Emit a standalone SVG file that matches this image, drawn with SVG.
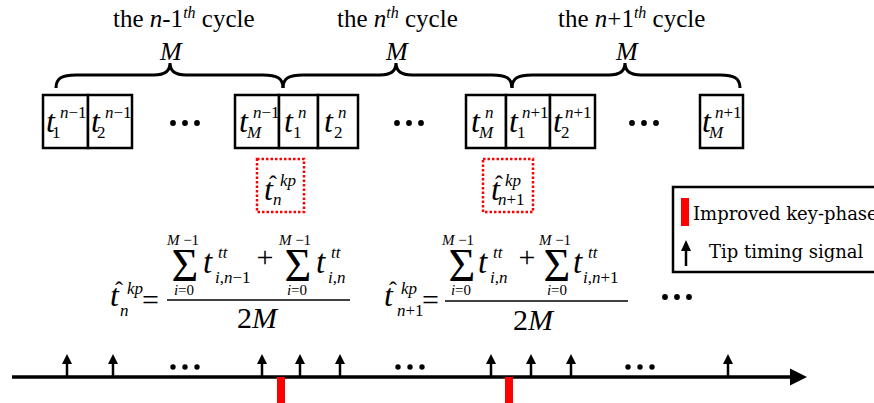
<svg xmlns="http://www.w3.org/2000/svg" width="874" height="403" viewBox="0 0 874 403">
<style>
text{font-family:"Liberation Serif","Times New Roman",serif;fill:#000}
.it{font-style:italic}
.t{font-style:italic;font-size:32px}
.s{font-size:17px}
.box{fill:#fff;stroke:#000;stroke-width:2.5}
.kp{fill:none;stroke:#f00;stroke-width:2.5;stroke-dasharray:2.5 2}
.brace{fill:none;stroke:#000;stroke-width:3}
.title{font-size:25px}
.leg{font-family:"DejaVu Serif","Liberation Serif",serif;font-size:18px}
.big{font-size:30px}
.sig{font-size:46px}
.lim{font-size:15px}
.dot{fill:#000}
</style>

<g id="titles">
<text class="title" x="113" y="27">the <tspan class="it">n</tspan>-1<tspan class="it" font-size="16" dy="-9">th</tspan><tspan dy="9"> cycle</tspan></text>
<text class="title" x="337" y="27">the <tspan class="it">n</tspan><tspan class="it" font-size="16" dy="-9">th</tspan><tspan dy="9"> cycle</tspan></text>
<text class="title" x="558" y="27">the <tspan class="it">n</tspan>+1<tspan class="it" font-size="16" dy="-9">th</tspan><tspan dy="9"> cycle</tspan></text>
<text class="it" font-size="26" x="160" y="60">M</text>
<text class="it" font-size="26" x="386" y="60">M</text>
<text class="it" font-size="26" x="616" y="60">M</text>
</g>

<g id="braces">
<path class="brace" d="M56,88 C56,78 62,75 76,75 L154,75 C164,75 170,72 170,63 C170,72 176,75 186,75 L263,75 C277,75 283,78 283,88"/>
<path class="brace" d="M283,88 C283,78 289,75 303,75 L380,75 C390,75 396,72 396,63 C396,72 402,75 412,75 L492,75 C506,75 512,78 512,88"/>
<path class="brace" d="M512,88 C512,78 518,75 532,75 L609,75 C619,75 625,72 625,63 C625,72 631,75 641,75 L720,75 C734,75 740,78 740,88"/>
</g>

<g id="cells">
<g id="c1"><rect class="box" x="43" y="95" width="45" height="53"/><text class="t" x="46" y="132">t</text><text class="s" x="60" y="118"><tspan class="it">n</tspan>−1</text><text class="s" x="52" y="138">1</text></g>
<g id="c2"><rect class="box" x="88" y="95" width="44" height="53"/><text class="t" x="91" y="132">t</text><text class="s" x="105" y="118"><tspan class="it">n</tspan>−1</text><text class="s" x="97" y="138">2</text></g>
<g id="c3"><rect class="box" x="235" y="95" width="44" height="53"/><text class="t" x="239" y="132">t</text><text class="s" x="253" y="118"><tspan class="it">n</tspan>−1</text><text class="s it" x="247" y="138">M</text></g>
<g id="c4"><rect class="box" x="279" y="95" width="39" height="53"/><text class="t" x="284" y="132">t</text><text class="s it" x="298" y="118">n</text><text class="s" x="293" y="138">1</text></g>
<g id="c5"><rect class="box" x="318" y="95" width="40" height="53"/><text class="t" x="324" y="132">t</text><text class="s it" x="338" y="118">n</text><text class="s" x="334" y="138">2</text></g>
<g id="c6"><rect class="box" x="466" y="95" width="40" height="53"/><text class="t" x="471" y="132">t</text><text class="s it" x="485" y="118">n</text><text class="s it" x="479" y="138">M</text></g>
<g id="c7"><rect class="box" x="506" y="95" width="44" height="53"/><text class="t" x="509" y="132">t</text><text class="s" x="522" y="118"><tspan class="it">n</tspan>+1</text><text class="s" x="517" y="138">1</text></g>
<g id="c8"><rect class="box" x="550" y="95" width="45" height="53"/><text class="t" x="553" y="132">t</text><text class="s" x="565" y="118"><tspan class="it">n</tspan>+1</text><text class="s" x="561" y="138">2</text></g>
<g id="c9"><rect class="box" x="700" y="95" width="43" height="53"/><text class="t" x="702" y="132">t</text><text class="s" x="715" y="118"><tspan class="it">n</tspan>+1</text><text class="s it" x="709" y="138">M</text></g>
<g id="dots1"><circle class="dot" cx="173" cy="123" r="2.9"/><circle class="dot" cx="185" cy="123" r="2.9"/><circle class="dot" cx="197" cy="123" r="2.9"/>
<circle class="dot" cx="397" cy="123" r="2.9"/><circle class="dot" cx="409" cy="123" r="2.9"/><circle class="dot" cx="421" cy="123" r="2.9"/>
<circle class="dot" cx="632" cy="123" r="2.9"/><circle class="dot" cx="644" cy="123" r="2.9"/><circle class="dot" cx="656" cy="123" r="2.9"/></g>
</g>

<g id="kp-n">
<rect class="kp" x="257" y="159" width="47" height="53"/>
<text class="t" x="264" y="200">t</text><text font-size="24" x="273" y="192" text-anchor="middle">ˆ</text>
<text class="s it" x="280" y="186">kp</text><text class="s it" x="273" y="205">n</text>
</g>
<g id="kp-n1">
<rect class="kp" x="483" y="159" width="50" height="53"/>
<text class="t" x="491" y="200">t</text><text font-size="24" x="499" y="192" text-anchor="middle">ˆ</text>
<text class="s it" x="505" y="186">kp</text><text class="s" x="498" y="205"><tspan class="it">n</tspan>+1</text>
</g>

<g id="formula1">
<text class="t" x="110" y="306">t</text><text font-size="24" x="119" y="298" text-anchor="middle">ˆ</text>
<text class="s it" x="127" y="294">kp</text><text class="s it" x="120" y="316">n</text>
<text class="big" x="142" y="310">=</text>
<text class="lim" x="183" y="245" text-anchor="middle"><tspan class="it">M</tspan> −1</text>
<text class="sig" x="185" y="281" text-anchor="middle">Σ</text>
<text class="lim" x="184" y="295" text-anchor="middle"><tspan class="it">i</tspan>=0</text>
<text class="it" font-size="33" x="203" y="273">t</text>
<text class="s it" x="218" y="258">tt</text>
<text font-size="17" x="215" y="283"><tspan class="it">i</tspan>,<tspan class="it">n</tspan>−1</text>
<text class="big" x="265" y="267" text-anchor="middle">+</text>
<text class="lim" x="295" y="245" text-anchor="middle"><tspan class="it">M</tspan> −1</text>
<text class="sig" x="298" y="281" text-anchor="middle">Σ</text>
<text class="lim" x="297" y="295" text-anchor="middle"><tspan class="it">i</tspan>=0</text>
<text class="it" font-size="33" x="316" y="273">t</text>
<text class="s it" x="331" y="258">tt</text>
<text font-size="17" x="328" y="283"><tspan class="it">i</tspan>,<tspan class="it">n</tspan></text>
<line x1="167" y1="300" x2="350" y2="300" stroke="#000" stroke-width="1.5"/>
<text class="big" x="257" y="328" text-anchor="middle">2<tspan class="it">M</tspan></text>
</g>

<g id="formula2">
<text class="t" x="384" y="306">t</text><text font-size="24" x="393" y="298" text-anchor="middle">ˆ</text>
<text class="s it" x="401" y="294">kp</text><text class="s" x="397" y="316"><tspan class="it">n</tspan>+1</text>
<text class="big" x="422" y="310">=</text>
<text class="lim" x="458" y="245" text-anchor="middle"><tspan class="it">M</tspan> −1</text>
<text class="sig" x="462" y="281" text-anchor="middle">Σ</text>
<text class="lim" x="461" y="295" text-anchor="middle"><tspan class="it">i</tspan>=0</text>
<text class="it" font-size="33" x="478" y="273">t</text>
<text class="s it" x="493" y="258">tt</text>
<text font-size="17" x="490" y="283"><tspan class="it">i</tspan>,<tspan class="it">n</tspan></text>
<text class="big" x="527" y="267" text-anchor="middle">+</text>
<text class="lim" x="555" y="245" text-anchor="middle"><tspan class="it">M</tspan> −1</text>
<text class="sig" x="557" y="281" text-anchor="middle">Σ</text>
<text class="lim" x="557" y="295" text-anchor="middle"><tspan class="it">i</tspan>=0</text>
<text class="it" font-size="33" x="573" y="273">t</text>
<text class="s it" x="588" y="258">tt</text>
<text font-size="17" x="583" y="283"><tspan class="it">i</tspan>,<tspan class="it">n</tspan>+1</text>
<line x1="445" y1="301" x2="628" y2="301" stroke="#000" stroke-width="1.5"/>
<text class="big" x="533" y="330" text-anchor="middle">2<tspan class="it">M</tspan></text>
<circle class="dot" cx="665" cy="297" r="2.9"/><circle class="dot" cx="677" cy="297" r="2.9"/><circle class="dot" cx="689" cy="297" r="2.9"/>
</g>

<g id="legend">
<rect x="673" y="187" width="210" height="85" fill="#fff" stroke="#000" stroke-width="2.5"/>
<rect x="681" y="198" width="8" height="28" fill="#f00"/>
<text class="leg" x="693" y="220">Improved key-phase</text>
<line x1="686" y1="266" x2="686" y2="248" stroke="#000" stroke-width="2.5"/>
<polygon points="681,251 686,240 691,251" fill="#000"/>
<text class="leg" x="709" y="258">Tip timing signal</text>
</g>

<g id="connectors">
<line x1="12" y1="377" x2="792" y2="377" stroke="#000" stroke-width="3.5"/>
<polygon points="790,368.5 807,377 790,385.5" fill="#000"/>
<g stroke="#000" stroke-width="2.5">
<line x1="67" y1="377" x2="67" y2="362"/><line x1="113" y1="377" x2="113" y2="362"/>
<line x1="262" y1="377" x2="262" y2="362"/><line x1="300" y1="377" x2="300" y2="362"/>
<line x1="340" y1="377" x2="340" y2="362"/><line x1="491" y1="377" x2="491" y2="362"/>
<line x1="531" y1="377" x2="531" y2="362"/><line x1="571" y1="377" x2="571" y2="362"/>
<line x1="728" y1="377" x2="728" y2="362"/>
</g>
<g fill="#000">
<polygon points="62,364 67,354 72,364"/><polygon points="108,364 113,354 118,364"/>
<polygon points="257,364 262,354 267,364"/><polygon points="295,364 300,354 305,364"/>
<polygon points="335,364 340,354 345,364"/><polygon points="486,364 491,354 496,364"/>
<polygon points="526,364 531,354 536,364"/><polygon points="566,364 571,354 576,364"/>
<polygon points="723,364 728,354 733,364"/>
<circle cx="173" cy="367" r="2.7"/><circle cx="185" cy="367" r="2.7"/><circle cx="197" cy="367" r="2.7"/>
<circle cx="398" cy="367" r="2.7"/><circle cx="410" cy="367" r="2.7"/><circle cx="422" cy="367" r="2.7"/>
<circle cx="628" cy="367" r="2.7"/><circle cx="640" cy="367" r="2.7"/><circle cx="652" cy="367" r="2.7"/>
</g>
<rect x="277" y="377" width="8" height="26" fill="#f00"/>
<rect x="505" y="377" width="8" height="26" fill="#f00"/>
</g>
</svg>
